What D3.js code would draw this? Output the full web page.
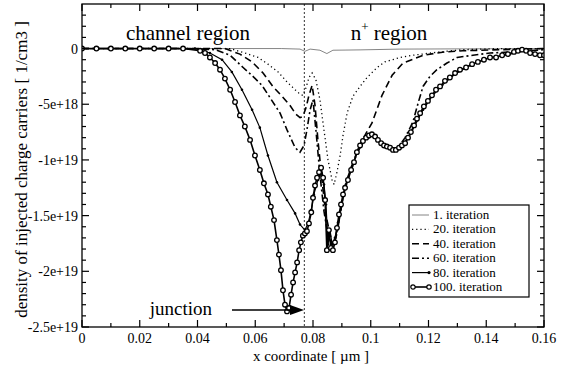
<!DOCTYPE html>
<html>
<head>
<meta charset="utf-8">
<script src="https://cdn.jsdelivr.net/npm/d3@7"></script>
<style>
  body { margin: 0; background: #fff; }
  svg text { font-family: "Liberation Serif", "DejaVu Serif", serif; fill: #000; }
</style>
</head>
<body>
<div id="chart"></div>
<script>
// density values are in units of 1e18 1/cm3, x in µm
const iter1 = [[0,0],[0.069,0],[0.0755,-0.05],[0.0772,-0.25],[0.079,-0.05],[0.0824,-0.15],[0.0848,-0.45],[0.0869,-0.15],[0.0963,-0.12],[0.1101,-0.05],[0.16,0]];

const iter20 = [[0,0],[0.0409,0],[0.0513,0],[0.0564,-0.4],[0.061,-0.8],[0.0644,-1.4],[0.0679,-2.1],[0.071,-3.0],[0.0738,-3.7],[0.0755,-4.1],[0.0765,-4.2],[0.0776,-3.5],[0.0786,-2.6],[0.0797,-2.2],[0.081,-2.8],[0.0824,-4.6],[0.0838,-7.3],[0.0852,-10.0],[0.0866,-11.8],[0.0873,-12.2],[0.0883,-11.1],[0.0894,-9.6],[0.0904,-7.8],[0.0918,-5.8],[0.0938,-4.3],[0.0963,-3.4],[0.0987,-2.6],[0.1022,-1.7],[0.1049,-1.2],[0.1101,-0.8],[0.1146,-0.6],[0.124,-0.3],[0.1319,-0.1],[0.1448,0],[0.16,0]];

const iter40 = [[0,0],[0.0409,0],[0.0495,0],[0.0547,-0.5],[0.0589,-1.2],[0.0627,-2.2],[0.0661,-3.4],[0.0693,-4.3],[0.072,-5.1],[0.0741,-5.9],[0.0755,-6.2],[0.0765,-6.1],[0.0776,-5.3],[0.0786,-4.2],[0.0797,-3.3],[0.0807,-5.1],[0.0817,-8.2],[0.0831,-11.8],[0.0845,-15.0],[0.0862,-17.0],[0.0876,-17.3],[0.089,-15.5],[0.0904,-13.4],[0.0921,-11.5],[0.0942,-10.0],[0.0963,-8.6],[0.0984,-7.6],[0.1004,-6.7],[0.1039,-4.2],[0.1074,-2.4],[0.1112,-1.3],[0.1181,-0.6],[0.1257,-0.3],[0.1319,-0.2],[0.1448,-0.1],[0.16,0]];

const iter60 = [[0,0],[0.0374,0],[0.0461,-0.1],[0.0513,-0.6],[0.0558,-1.7],[0.0592,-2.5],[0.0623,-3.3],[0.0651,-4.4],[0.0686,-5.8],[0.071,-7.3],[0.0738,-8.9],[0.0755,-9.3],[0.0769,-8.7],[0.0779,-7.3],[0.079,-5.5],[0.08,-4.6],[0.081,-7.3],[0.0824,-11.3],[0.0838,-14.6],[0.0852,-16.8],[0.0869,-17.8],[0.0883,-16.6],[0.0897,-14.4],[0.0914,-12.2],[0.0935,-10.6],[0.0956,-9.2],[0.098,-8.2],[0.1004,-7.9],[0.1032,-8.4],[0.1063,-8.9],[0.1094,-8.9],[0.1119,-8.0],[0.1146,-6.6],[0.1164,-4.9],[0.1181,-3.4],[0.1205,-2.5],[0.1229,-1.9],[0.1264,-1.3],[0.1299,-0.8],[0.1354,-0.6],[0.1413,-0.4],[0.1493,-0.3],[0.16,-0.1]];

const iter80 = [[0,0],[0.0305,0],[0.0391,0],[0.0443,-0.4],[0.0485,-1.0],[0.0519,-2.1],[0.0554,-3.7],[0.0589,-5.5],[0.0616,-7.1],[0.0644,-9.6],[0.0675,-12.0],[0.071,-13.6],[0.0738,-14.8],[0.0755,-15.8],[0.0772,-16.3],[0.0783,-15.7],[0.0794,-14.5],[0.0803,-13.1],[0.0817,-11.8],[0.0828,-11.1],[0.0838,-12.2],[0.0845,-14.0],[0.0852,-17.6],[0.0859,-16.3],[0.0866,-17.6],[0.0876,-17.0],[0.0887,-15.6],[0.09,-13.9],[0.0914,-12.2],[0.0935,-10.6],[0.0956,-9.1],[0.0977,-8.2],[0.0997,-7.8],[0.1018,-8.0],[0.1046,-8.7],[0.1074,-9.0],[0.1101,-8.8],[0.1129,-8.1],[0.1153,-6.9],[0.1181,-5.5],[0.1212,-4.3],[0.1247,-3.3],[0.1292,-2.3],[0.1344,-1.5],[0.1413,-0.8],[0.1482,-0.5],[0.1527,-0.2],[0.1569,-0.4],[0.16,-0.6]];

const iter100 = [[0,0],[0.005,0],[0.01,0],[0.015,0],[0.02,0],[0.025,0],[0.03,0],[0.035,0],[0.0409,-0.2],[0.0426,-0.4],[0.0443,-0.8],[0.0461,-1.3],[0.0478,-1.9],[0.0495,-2.7],[0.0513,-3.7],[0.053,-4.8],[0.0547,-6.0],[0.0564,-7.0],[0.0582,-8.2],[0.0599,-9.6],[0.0616,-10.9],[0.063,-12.1],[0.0644,-13.1],[0.0654,-14.2],[0.0665,-15.4],[0.0675,-17.2],[0.0682,-18.5],[0.0689,-19.9],[0.0696,-21.7],[0.0703,-23.0],[0.071,-23.6],[0.0717,-23.3],[0.0724,-22.1],[0.0731,-21.0],[0.0738,-20.1],[0.0745,-19.2],[0.0752,-18.1],[0.0758,-17.4],[0.0765,-16.8],[0.0772,-16.6],[0.0779,-16.4],[0.0786,-15.7],[0.0794,-14.7],[0.08,-13.4],[0.0807,-12.3],[0.0814,-11.6],[0.0821,-11.1],[0.0828,-10.7],[0.0835,-11.6],[0.0842,-13.6],[0.0848,-18.1],[0.0855,-16.3],[0.0862,-17.9],[0.0869,-18.1],[0.0876,-17.4],[0.0883,-16.1],[0.089,-14.9],[0.0897,-14.0],[0.0904,-13.1],[0.0911,-12.5],[0.0921,-11.8],[0.0932,-10.9],[0.0942,-10.2],[0.0952,-9.3],[0.0963,-8.7],[0.0973,-8.3],[0.0984,-8.0],[0.0994,-7.8],[0.1004,-7.7],[0.1015,-7.9],[0.1025,-8.2],[0.1036,-8.5],[0.1046,-8.7],[0.1056,-8.8],[0.1067,-8.9],[0.1077,-9.1],[0.1087,-9.1],[0.1098,-8.9],[0.1108,-8.7],[0.1119,-8.5],[0.1129,-8.0],[0.1139,-7.5],[0.115,-6.9],[0.116,-6.3],[0.1171,-5.8],[0.1184,-5.2],[0.1198,-4.7],[0.1212,-4.2],[0.1226,-3.7],[0.124,-3.4],[0.1257,-2.9],[0.1274,-2.6],[0.1292,-2.2],[0.1309,-1.9],[0.133,-1.7],[0.1351,-1.4],[0.1371,-1.2],[0.1392,-1.0],[0.1413,-0.8],[0.1434,-0.8],[0.1455,-0.6],[0.1475,-0.5],[0.1496,-0.3],[0.151,-0.2],[0.1524,-0.1],[0.1538,-0.2],[0.1552,-0.4],[0.1569,-0.5],[0.1586,-0.6],[0.16,-0.6]];

const legendLabels = ["1. iteration", "20. iteration", "40. iteration", "60. iteration", "80. iteration", "100. iteration"];
const xTicks = [0, 0.02, 0.04, 0.06, 0.08, 0.1, 0.12, 0.14, 0.16];
const yTicks = [0, -5, -10, -15, -20, -25];
const junctionX = 0.077;

const width = 563, height = 376;
const mLeft = 82, mRight = 544, mTop = 4, mBottom = 327;

const svg = d3.select('#chart').append('svg')
  .attr('width', width)
  .attr('height', height);

const x = d3.scaleLinear().domain([0, 0.16]).range([mLeft, mRight]);
const y = d3.scaleLinear().domain([-25, 4]).range([mBottom, mTop]);

const series = [
  {data: iter1, stroke: '#666', sw: 0.8, dash: null},
  {data: iter20, stroke: '#000', sw: 1.3, dash: '1.2,3'},
  {data: iter40, stroke: '#000', sw: 1.6, dash: '7,4'},
  {data: iter60, stroke: '#000', sw: 1.6, dash: '7,3,2,3'},
  {data: iter80, stroke: '#000', sw: 1.2, dash: null, dot: 1.3},
  {data: iter100, stroke: '#000', sw: 1.6, dash: null, circle: 2.3}
];

svg.append('clipPath').attr('id', 'clip')
  .append('rect').attr('x', mLeft).attr('y', mTop).attr('width', mRight - mLeft).attr('height', mBottom - mTop);

const plot = svg.append('g').attr('clip-path', 'url(#clip)');

// junction marker line
plot.append('line')
  .attr('x1', x(junctionX)).attr('x2', x(junctionX))
  .attr('y1', mTop).attr('y2', mBottom)
  .attr('stroke', '#333').attr('stroke-width', 1)
  .attr('stroke-dasharray', '2,2');

const line = d3.line().x(d => x(d[0])).y(d => y(d[1]));

series.forEach(s => {
  plot.append('path')
    .datum(s.data)
    .attr('d', line)
    .attr('fill', 'none')
    .attr('stroke', s.stroke)
    .attr('stroke-width', s.sw)
    .attr('stroke-dasharray', s.dash);
  if (s.dot) {
    plot.append('g').selectAll('circle').data(s.data).join('circle')
      .attr('cx', d => x(d[0])).attr('cy', d => y(d[1]))
      .attr('r', s.dot).attr('fill', '#000');
  }
  if (s.circle) {
    plot.append('g').selectAll('circle').data(s.data).join('circle')
      .attr('cx', d => x(d[0])).attr('cy', d => y(d[1]))
      .attr('r', s.circle).attr('fill', '#fff')
      .attr('stroke', '#000').attr('stroke-width', 1.3);
  }
});

// frame
svg.append('rect')
  .attr('x', mLeft).attr('y', mTop)
  .attr('width', mRight - mLeft).attr('height', mBottom - mTop)
  .attr('fill', 'none').attr('stroke', '#000').attr('stroke-width', 1.3);

// ticks on all four sides, pointing inward
const xMinor = d3.range(0.01, 0.16, 0.02);
const yMinor = d3.range(-24, 4, 1).filter(v => v % 5 !== 0);

const ticks = svg.append('g').attr('stroke', '#000').attr('stroke-width', 1.2);
xTicks.forEach(v => {
  ticks.append('line').attr('x1', x(v)).attr('x2', x(v)).attr('y1', mBottom).attr('y2', mBottom - 7);
  ticks.append('line').attr('x1', x(v)).attr('x2', x(v)).attr('y1', mTop).attr('y2', mTop + 7);
});
xMinor.forEach(v => {
  ticks.append('line').attr('x1', x(v)).attr('x2', x(v)).attr('y1', mBottom).attr('y2', mBottom - 4);
  ticks.append('line').attr('x1', x(v)).attr('x2', x(v)).attr('y1', mTop).attr('y2', mTop + 4);
});
yTicks.forEach(v => {
  ticks.append('line').attr('y1', y(v)).attr('y2', y(v)).attr('x1', mLeft).attr('x2', mLeft + 7);
  ticks.append('line').attr('y1', y(v)).attr('y2', y(v)).attr('x1', mRight).attr('x2', mRight - 7);
});
yMinor.forEach(v => {
  ticks.append('line').attr('y1', y(v)).attr('y2', y(v)).attr('x1', mLeft).attr('x2', mLeft + 4);
  ticks.append('line').attr('y1', y(v)).attr('y2', y(v)).attr('x1', mRight).attr('x2', mRight - 4);
});

// tick labels
svg.append('g').selectAll('text').data(xTicks).join('text')
  .attr('x', d => x(d)).attr('y', mBottom + 16)
  .attr('text-anchor', 'middle').attr('font-size', 14)
  .text(d => d);

svg.append('g').selectAll('text').data(yTicks).join('text')
  .attr('x', mLeft - 4).attr('y', d => y(d) + 5)
  .attr('text-anchor', 'end').attr('font-size', 14)
  .text(d => d === 0 ? '0' : (d * 1e18).toExponential());

// axis titles
svg.append('text')
  .attr('x', 311).attr('y', mBottom + 34)
  .attr('text-anchor', 'middle').attr('font-size', 15)
  .text('x coordinate  [ µm ]');

svg.append('text')
  .attr('transform', `translate(27,${(mTop + mBottom) / 2 + 4}) rotate(-90)`)
  .attr('text-anchor', 'middle').attr('font-size', 17)
  .text('density of injected charge carriers  [ 1/cm3 ]');

// region labels
svg.append('text')
  .attr('x', 188).attr('y', 40)
  .attr('text-anchor', 'middle').attr('font-size', 21)
  .text('channel region');

const nreg = svg.append('text')
  .attr('x', 389).attr('y', 40)
  .attr('text-anchor', 'middle').attr('font-size', 21);
nreg.append('tspan').text('n');
nreg.append('tspan').attr('dy', -9).attr('font-size', 13).text('+');
nreg.append('tspan').attr('dy', 9).text(' region');

// junction annotation
svg.append('text')
  .attr('x', 212).attr('y', 315)
  .attr('text-anchor', 'end').attr('font-size', 19)
  .text('junction');

svg.append('line')
  .attr('x1', 232).attr('x2', 292).attr('y1', 310).attr('y2', 310)
  .attr('stroke', '#000').attr('stroke-width', 1.5);
svg.append('path')
  .attr('d', 'M290,305 L304,310 L290,315 Z')
  .attr('fill', '#000');

// legend
const lg = svg.append('g').attr('transform', 'translate(409,205)');
lg.append('rect').attr('width', 120).attr('height', 92)
  .attr('fill', '#fff').attr('stroke', '#000').attr('stroke-width', 1.2);

legendLabels.forEach((label, i) => {
  const s = series[i];
  const ly = 10 + i * 14.4;
  lg.append('line')
    .attr('x1', 3).attr('x2', 20).attr('y1', ly).attr('y2', ly)
    .attr('stroke', s.stroke).attr('stroke-width', s.sw)
    .attr('stroke-dasharray', s.dash);
  if (s.dot) {
    lg.append('circle').attr('cx', 20).attr('cy', ly).attr('r', 1.6).attr('fill', '#000');
  }
  if (s.circle) {
    [4, 20].forEach(cx => lg.append('circle').attr('cx', cx).attr('cy', ly).attr('r', 2.2)
      .attr('fill', '#fff').attr('stroke', '#000').attr('stroke-width', 1.2));
  }
  lg.append('text').attr('x', 24).attr('y', ly + 4)
    .attr('font-size', 13).text(label);
});
</script>
</body>
</html>
